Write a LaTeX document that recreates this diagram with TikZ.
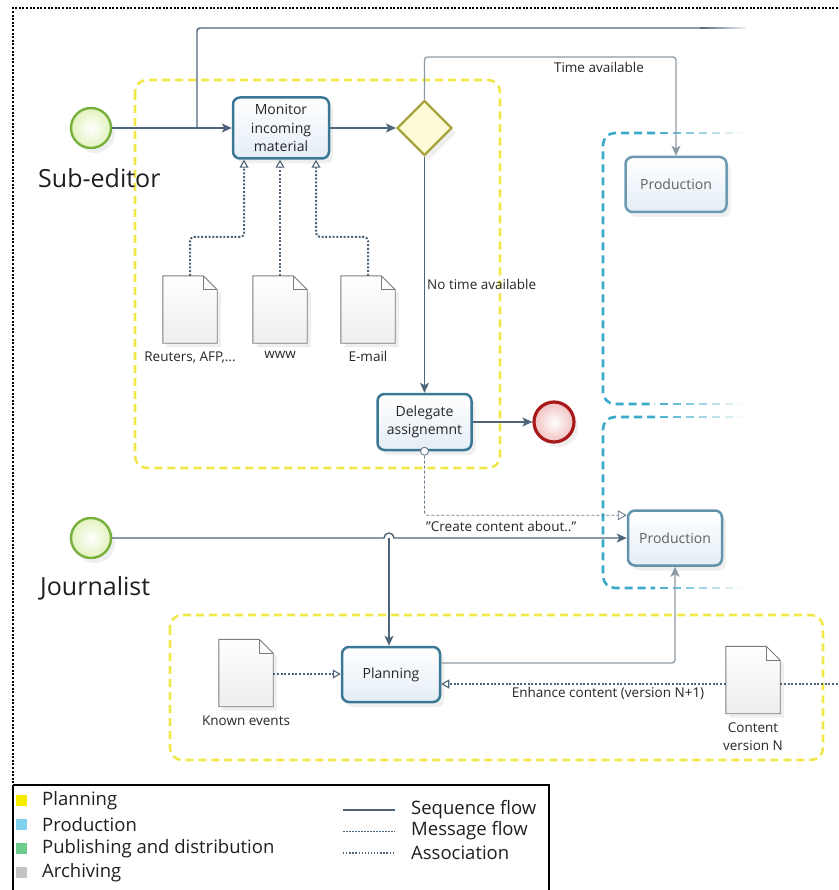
\documentclass[tikz,border=0pt]{standalone}
\usepackage{fontspec}
\setmainfont{Open Sans}
\usetikzlibrary{shapes.geometric,arrows.meta,shadows,calc}

\definecolor{seqc}{HTML}{4E6478}
\definecolor{seqg}{HTML}{8D99A2}
\definecolor{taskc}{HTML}{3B7896}
\definecolor{taskf}{HTML}{E4EDF6}
\definecolor{grpy}{HTML}{F0E84A}
\definecolor{grpc}{HTML}{3AAAC8}
\definecolor{startc}{HTML}{78B03C}
\definecolor{startf}{HTML}{E2F2BE}
\definecolor{endc}{HTML}{A81A1A}
\definecolor{endf}{HTML}{F0C0C0}
\definecolor{gwc}{HTML}{A8A43C}
\definecolor{gwf}{HTML}{FCFAD8}
\definecolor{docc}{HTML}{7C7C7C}
\definecolor{legy}{HTML}{F5EC00}
\definecolor{legc}{HTML}{80D2EE}
\definecolor{legg}{HTML}{6DCB8B}
\definecolor{lega}{HTML}{C4C4C4}

\tikzset{
  softshadow/.style={drop shadow={opacity=0.13, shadow xshift=4pt, shadow yshift=-5pt}},
  task/.style={draw=taskc, line width=2.5pt, rounded corners=7pt, top color=white,
    bottom color=taskf, align=center, inner sep=0pt, text=black!85,
    font=\fontsize{14}{18.5}\selectfont, softshadow},
  startev/.style={circle, draw=startc, line width=2.4pt, inner color=white,
    outer color=startf, minimum size=40pt, inner sep=0pt, softshadow},
  endev/.style={circle, draw=endc, line width=3.2pt, inner color=white,
    outer color=endf, minimum size=40pt, inner sep=0pt, softshadow},
  gateway/.style={diamond, aspect=1, draw=gwc, line width=2.2pt, fill=gwf,
    minimum width=55pt, minimum height=55pt, inner sep=0pt, softshadow},
  docbox/.style={rectangle, minimum width=54pt, minimum height=67pt, inner sep=0pt},
  docline/.style={draw=docc, line width=0.9pt, top color=white, bottom color=black!7},
  lane/.style={font=\fontsize{25}{30}\selectfont, text=black!88, inner sep=0pt},
  lbl/.style={font=\fontsize{13.5}{17}\selectfont, text=black!85, inner sep=0pt, align=center},
  legtxt/.style={font=\fontsize{18.5}{20}\selectfont, text=black!88, inner sep=0pt, anchor=west},
  seq/.style={draw=seqc, line width=1.4pt, -{Stealth[length=10pt,width=9pt,inset=2.5pt]}},
  seqline/.style={draw=seqc, line width=1.4pt},
  seqgr/.style={draw=seqg, line width=1.3pt, -{Stealth[length=10pt,width=9pt,inset=2.5pt]}},
  assocline/.style={draw=seqc, line width=2pt, dash pattern=on 2pt off 1.7pt},
  assoc/.style={assocline, -{Triangle[open,length=8pt,width=9pt,line width=1.1pt]}},
  msg/.style={draw=seqc!85, line width=0.9pt, dash pattern=on 3pt off 2pt,
    -{Triangle[open,length=9pt,width=10pt,line width=0.9pt]}},
  msgstart/.style={circle, draw=seqc!85, line width=0.9pt, fill=white,
    minimum size=8pt, inner sep=0pt},
  ygrp/.style={draw=grpy, line width=2.6pt, dash pattern=on 8pt off 5pt, rounded corners=12pt},
  cgrp/.style={draw=grpc, line width=2.6pt, dash pattern=on 8pt off 5pt, rounded corners=12pt},
}

% a data object: a sheet with a folded corner, built on a named node
\newcommand\paperdoc[3]{%
  \node[docbox] (#1) at (#2,#3) {};
  \draw[docline, drop shadow={opacity=0.13, shadow xshift=4pt, shadow yshift=-4pt}]
    (#1.north west) -- ([xshift=-14pt]#1.north east) -- ([yshift=-14pt]#1.north east)
    -- (#1.south east) -- (#1.south west) -- cycle;
  \draw[draw=docc, line width=0.9pt] ([xshift=-14pt]#1.north east)
    -- ([xshift=-14pt,yshift=-14pt]#1.north east) -- ([yshift=-14pt]#1.north east);
}

% dashed group border that dies out towards the right
\newcommand\fadedash[3]{% x start, y, number of dashes
  \foreach \k in {0,...,#3}{%
    \pgfmathsetmacro\xa{#1+13*\k}
    \pgfmathtruncatemacro\pc{90-85*\k/#3}
    \draw[draw=grpc!\pc!white, line width=2.6pt] (\xa,#2) -- (\xa+8,#2);
  }}

% solid connector that dies out towards the right
\newcommand\fadeline[4]{% x start, x end, y, colour
  \foreach \k in {0,...,9}{%
    \pgfmathsetmacro\xa{#1+(#2-#1)*\k/10}
    \pgfmathsetmacro\xb{#1+(#2-#1)*(\k+1)/10}
    \pgfmathtruncatemacro\pc{95-9*\k}
    \draw[draw=#4!\pc!white, line width=1.4pt] (\xa,#3) -- (\xb,#3);
  }}

\begin{document}
\begin{tikzpicture}[x=1pt, y=-1pt]
\useasboundingbox (0,0) rectangle (838,890);

% ---------- groups ----------
\draw[ygrp] (135,80) rectangle (500,468);
\draw[ygrp] (170,615) rectangle (823,760);
\draw[cgrp] (655,133) -- (603,133) -- (603,404) -- (655,404);
\fadedash{660}{133}{6}
\fadedash{660}{404}{6}
\draw[cgrp] (655,417) -- (603,417) -- (603,588) -- (655,588);
\fadedash{660}{417}{6}
\fadedash{660}{588}{6}

% ---------- sub-editor lane ----------
\node[startev] (se) at (91,128) {};
\node[lane, anchor=west] (lse) at (38,178) {Sub-editor};
\node[task, minimum width=96pt, minimum height=61pt] (mon) at (281,128) {Monitor\\incoming\\material};
\node[gateway] (gw) at (424.5,128) {};
\node[task, minimum width=101pt, minimum height=55pt, draw=taskc!75, text=black!62] (p1) at (676,184.5) {Production};
\node[task, minimum width=94pt, minimum height=56pt] (del) at (424.5,422) {Delegate\\assignemnt};
\node[endev] (ee) at (554,422) {};

\paperdoc{reu}{190}{309.5}
\paperdoc{www}{280}{309.5}
\paperdoc{eml}{368}{309.5}
\node[lbl, anchor=north] (reul) at ([yshift=-8pt]reu.south) {Reuters, AFP,...};
\node[lbl, anchor=north] (wwwl) at ([yshift=-8pt]www.south) {www};
\node[lbl, anchor=north] (emll) at ([yshift=-8pt]eml.south) {E-mail};

% ---------- journalist lane ----------
\node[startev] (js) at (91,538) {};
\node[lane, anchor=west] (lj) at (40,588) {Journalist};
\node[task, minimum width=94pt, minimum height=55pt, draw=taskc!80, text=black!62] (p2) at (675,538) {Production};
\node[task, minimum width=98pt, minimum height=55pt] (plan) at (391,674.5) {Planning};
\paperdoc{kev}{246}{673}
\paperdoc{cnt}{753}{680}
\node[lbl, anchor=north] (kevl) at ([yshift=-9pt]kev.south) {Known events};
\node[lbl, anchor=north, font=\fontsize{13.5}{18}\selectfont] (cntl) at ([yshift=-9pt]cnt.south) {Content\\version N};

% ---------- helper coordinates ----------
\coordinate (br) at (197,128);
\coordinate (tbend) at (700,28);
\coordinate (tav) at (424.5,57);
\coordinate (y237) at (0,237);
\coordinate (hop) at (389,538);
\coordinate (y663) at (0,663);
\coordinate (y674) at (0,674);
\coordinate (y684) at (0,684);
\coordinate (rgt) at (842,684);

% ---------- sequence flows ----------
\draw[seq] (se) -- (mon);
\draw[seqline, rounded corners=3pt] (br) |- (tbend);
\fadeline{700}{745}{28}{seqc}
\draw[seq] (mon) -- (gw);
\draw[seqgr, rounded corners=3pt] (gw.north) -- (tav) -| (p1.north);
\node[lbl] (tavl) at (599,67) {Time available};
\draw[seq] (gw.south) -- (del.north);
\node[lbl, anchor=west] (ntl) at (427,284) {No time available};
\draw[seq] (del) -- (ee);

\draw[seq] (js.east) -- ([xshift=-5pt]hop) arc[start angle=180, end angle=0, radius=5pt] -- (p2.west |- hop);
\draw[seq] (hop) -- (hop |- plan.north);
\draw[seqgr, rounded corners=3pt] (plan.east |- y663) -| (p2.south);

% ---------- message flow ----------
\node[msgstart] (ms) at (del.south) {};
\draw[msg, rounded corners=3pt] (ms.south) |- ([yshift=-6pt]p2.north west);
\node[lbl, anchor=west] (ccl) at (426,526) {"Create content about.."};

% ---------- associations ----------
\draw[assoc, rounded corners=4pt] (reu.north) -- (reu.north |- y237) -| ([xshift=-37pt]mon.south);
\draw[assoc] (www.north) -- (www.north |- mon.south);
\draw[assoc, rounded corners=4pt] (eml.north) -- (eml.north |- y237) -| ([xshift=35pt]mon.south);
\draw[assoc] (kev.east |- y674) -- (plan.west |- y674);
\draw[assoc] (cnt.west |- y684) -- (plan.east |- y684);
\draw[assocline] (cnt.east |- y684) -- (rgt);
\node[lbl] (ecl) at (608,693) {Enhance content (version N+1)};

% ---------- frame ----------
\draw[black, line width=2pt, dash pattern=on 2pt off 1.6pt] (13,895) -- (13,8) -- (845,8);

% ---------- legend ----------
\draw[black, line width=1.2pt] (13,785) -- (13,895);
\draw[black, line width=2pt] (13,785) -- (549,785) -- (549,895);
\fill[legy] (16,795) rectangle (27,806);
\fill[legc] (16,819) rectangle (27,830);
\fill[legg] (16,843) rectangle (27,854);
\fill[lega] (16,867) rectangle (27,878);
\node[legtxt] (lp1) at (42,801) {Planning};
\node[legtxt] (lp2) at (42,825) {Production};
\node[legtxt] (lp3) at (42,849) {Publishing and distribution};
\node[legtxt] (lp4) at (42,873) {Archiving};
\coordinate (ls1) at (343,810);
\coordinate (le1) at (395,810);
\coordinate (ls2) at (343,831);
\coordinate (le2) at (395,831);
\coordinate (ls3) at (343,853);
\coordinate (le3) at (395,853);
\draw[seqc, line width=1.1pt] (ls1) -- (le1);
\draw[seqc, line width=0.7pt, dash pattern=on 2pt off 1pt] (ls2) -- (le2);
\draw[seqc, line width=1.3pt, dash pattern=on 1.3pt off 1.8pt] (ls3) -- (le3);
\node[legtxt] (lf1) at (411,810) {Sequence flow};
\node[legtxt] (lf2) at (411,831) {Message flow};
\node[legtxt] (lf3) at (411,853) {Association};
\end{tikzpicture}
\end{document}
